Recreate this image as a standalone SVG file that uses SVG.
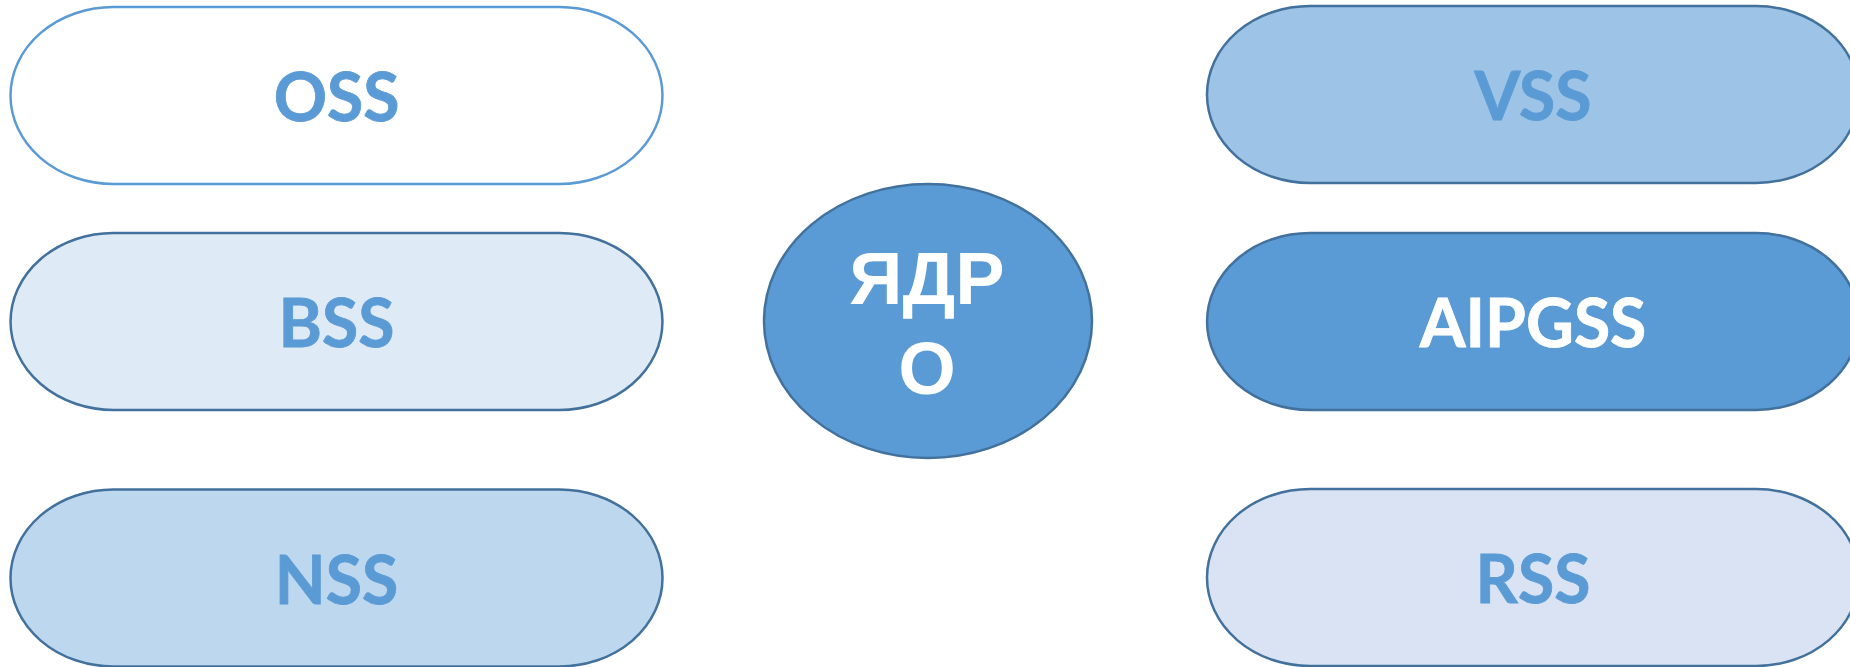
<svg xmlns="http://www.w3.org/2000/svg" width="1850" height="667" viewBox="0 0 1850 667">
<style>
.pill{stroke:#41719C;stroke-width:2.5}
.lbl{font-family:Lato,"Open Sans","Liberation Sans",sans-serif;font-weight:700;font-size:66px;fill:#5B9BD5;text-anchor:middle;stroke:#5B9BD5;stroke-width:0.8}
.wt{fill:#FFFFFF;stroke:#FFFFFF}
.core{font-family:"Liberation Sans",Arial,sans-serif;font-weight:700;font-size:74px;fill:#FFFFFF;text-anchor:middle}
</style>
<rect width="1850" height="667" fill="#FFFFFF"/>
<g id="connectors"></g>
<g id="oss">
<path class="pill" style="stroke:#5B9BD5" fill="#FFFFFF" d="M113.5 7 H559.5 A103 88.5 0 0 1 559.5 184 H113.5 A103 88.5 0 0 1 113.5 7 Z"/>
<text class="lbl" x="336.5" y="121">OSS</text>
</g>
<g id="bss">
<path class="pill" fill="#DEEAF6" d="M113.5 233 H559.5 A103 88.5 0 0 1 559.5 410 H113.5 A103 88.5 0 0 1 113.5 233 Z"/>
<text class="lbl" x="336.5" y="347">BSS</text>
</g>
<g id="nss">
<path class="pill" fill="#BDD7EE" d="M113.5 489.5 H559.5 A103 88.5 0 0 1 559.5 666.5 H113.5 A103 88.5 0 0 1 113.5 489.5 Z"/>
<text class="lbl" x="336.5" y="603.5">NSS</text>
</g>
<g id="core">
<ellipse cx="928" cy="321" rx="164" ry="137" fill="#5B9BD5" stroke="#41719C" stroke-width="2.5"/>
<text class="core" x="927" y="304">ЯДР</text>
<text class="core" x="927" y="394">О</text>
</g>
<g id="vss">
<path class="pill" fill="#9DC3E6" d="M1310 6 H1756 A103 88.5 0 0 1 1756 183 H1310 A103 88.5 0 0 1 1310 6 Z"/>
<text class="lbl" x="1533" y="120">VSS</text>
</g>
<g id="aipgss">
<path class="pill" fill="#5B9BD5" d="M1310 233 H1756 A103 88.5 0 0 1 1756 410 H1310 A103 88.5 0 0 1 1310 233 Z"/>
<text class="lbl wt" x="1533" y="347">AIPGSS</text>
</g>
<g id="rss">
<path class="pill" fill="#DAE3F3" d="M1310 489 H1756 A103 88.5 0 0 1 1756 666 H1310 A103 88.5 0 0 1 1310 489 Z"/>
<text class="lbl" x="1533" y="603">RSS</text>
</g>
</svg>
